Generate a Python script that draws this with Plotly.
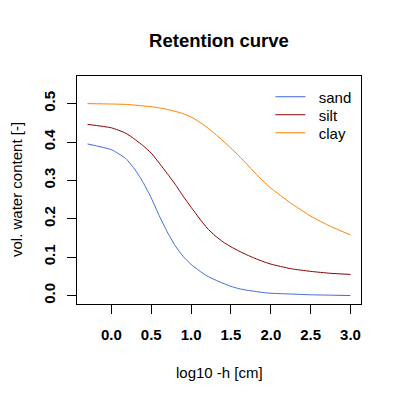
import plotly.graph_objects as go

# log10 of suction head
log_h = [-0.3, 0.0, 0.18, 0.3, 0.4, 0.5, 0.6, 0.7, 0.8, 0.9, 1.0,
         1.1, 1.2, 1.3, 1.4, 1.5, 1.6, 1.7, 1.8, 1.9, 2.0,
         2.25, 2.5, 2.75, 3.0]

sand = [0.395, 0.380, 0.357, 0.327, 0.294, 0.254, 0.208, 0.166, 0.130, 0.102, 0.081,
        0.065, 0.051, 0.041, 0.032, 0.024, 0.018, 0.014, 0.011, 0.008, 0.006,
        0.004, 0.002, 0.001, 0.000]
silt = [0.446, 0.437, 0.423, 0.406, 0.390, 0.371, 0.345, 0.318, 0.290, 0.259, 0.230,
        0.202, 0.176, 0.156, 0.140, 0.127, 0.116, 0.106, 0.097, 0.089, 0.082,
        0.070, 0.063, 0.058, 0.055]
clay = [0.500, 0.499, 0.498, 0.496, 0.494, 0.492, 0.489, 0.485, 0.480, 0.474, 0.465,
        0.453, 0.438, 0.421, 0.403, 0.384, 0.364, 0.342, 0.320, 0.299, 0.280,
        0.241, 0.207, 0.180, 0.158]

x_ticks = [0.0, 0.5, 1.0, 1.5, 2.0, 2.5, 3.0]
y_ticks = [0.0, 0.1, 0.2, 0.3, 0.4, 0.5]

FONT = "Liberation Sans, Arial, sans-serif"
OFF = 8  # the page body adds an 8px margin, so pull everything up/left

# name, values, colour, legend id, legend row (paper y)
series = [("sand", sand, "#4169E1", "legend", 0.908),
          ("silt", silt, "#8B0000", "legend2", 0.829),
          ("clay", clay, "#FF7F00", "legend3", 0.750)]

fig = go.Figure()
for name, vals, col, leg, _ in series:
    fig.add_trace(
        go.Scatter(x=log_h,
                   y=vals,
                   name="\u00a0\u00a0" + name,
                   legend=leg,
                   mode="lines",
                   line=dict(color=col, width=1, shape="spline", smoothing=0.5)))

# one small legend per entry so the rows sit as close as in the original
legends = {}
for _, _, _, leg, row_y in series:
    legends[leg] = dict(x=0.681, y=row_y, xanchor="left", yanchor="middle",
                        bgcolor="rgba(0,0,0,0)", font=dict(size=15),
                        itemwidth=30)

fig.update_layout(
    width=400, height=400,
    margin=dict(l=77 - OFF, r=39 + OFF, t=76 - OFF, b=96 + OFF),
    paper_bgcolor="white",
    plot_bgcolor="white",
    font=dict(family=FONT, size=15, color="black"),
    title=dict(text="<b>Retention curve</b>",
               font=dict(size=18.5),
               x=0.5, xref="paper",
               y=1 - (41 - OFF) / 400, yref="container", yanchor="middle"),
    showlegend=True,
    annotations=[
        dict(text="log10 -h [cm]", xref="paper", yref="paper",
             x=0.5, y=-(372 - 304) / 228, showarrow=False,
             xanchor="center", yanchor="middle", font=dict(size=15)),
        dict(text="vol. water content [-]", xref="paper", yref="paper",
             x=-61 / 284, y=0.5, showarrow=False, textangle=-90,
             xanchor="center", yanchor="middle", font=dict(size=15)),
    ],
    **legends
)

fig.update_xaxes(
    range=[-0.432, 3.132],
    tickvals=x_ticks,
    ticktext=["<b>%.1f</b>" % v for v in x_ticks],
    ticks="outside", ticklen=9, tickwidth=1, tickcolor="black",
    ticklabelstandoff=8,
    showline=True, linecolor="black", linewidth=1, mirror=True,
    showgrid=False, zeroline=False)

fig.update_yaxes(
    range=[-0.022, 0.572],
    tickvals=y_ticks,
    ticktext=["<b>%.1f</b>" % v for v in y_ticks],
    tickangle=-90,
    ticks="outside", ticklen=9, tickwidth=1, tickcolor="black",
    ticklabelstandoff=6,
    showline=True, linecolor="black", linewidth=1, mirror=True,
    showgrid=False, zeroline=False)

fig.write_html("out.html")
